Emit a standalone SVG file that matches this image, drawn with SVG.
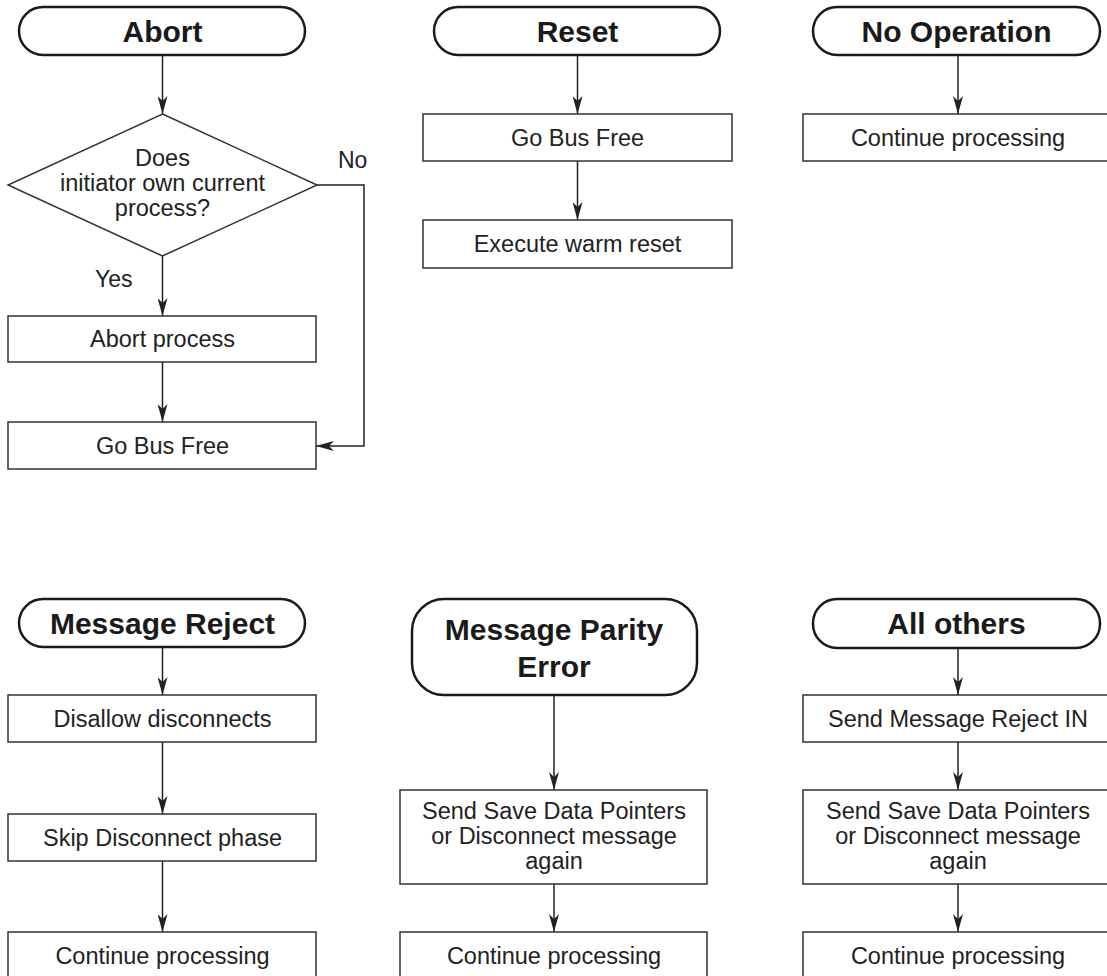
<svg xmlns="http://www.w3.org/2000/svg" width="1107" height="976" viewBox="0 0 1107 976">
<style>
  .term { fill: #fff; stroke: #1a1a1a; stroke-width: 2.5; }
  .box { fill: #fff; stroke: #333; stroke-width: 1.5; }
  .ttl { font-family: "Liberation Sans", Arial, sans-serif; font-weight: bold; font-size: 30px; fill: #1a1a1a; text-anchor: middle; }
  .txt { font-family: "Liberation Sans", Arial, sans-serif; font-size: 23.5px; fill: #222; text-anchor: middle; }
  .lbl { font-family: "Liberation Sans", Arial, sans-serif; font-size: 23px; fill: #222; }
  .con { fill: none; stroke: #222; stroke-width: 1.5; marker-end: url(#arr); }
</style>
<defs>
  <marker id="arr" viewBox="0 0 18 10" refX="18" refY="5" markerWidth="18" markerHeight="10" markerUnits="userSpaceOnUse" orient="auto">
    <path d="M0,0 L18,5 L0,10 L5,5 z" fill="#222"/>
  </marker>
</defs>
<rect width="1107" height="976" fill="#fff"/>

<g id="connectors">
  <line class="con" x1="162.5" y1="55" x2="162.5" y2="114"/>
  <line class="con" x1="162.5" y1="256" x2="162.5" y2="316"/>
  <line class="con" x1="162.5" y1="362" x2="162.5" y2="422"/>
  <polyline class="con" points="317,185 364,185 364,446 316,446"/>
  <line class="con" x1="577.5" y1="55" x2="577.5" y2="114"/>
  <line class="con" x1="577.5" y1="161" x2="577.5" y2="220"/>
  <line class="con" x1="958" y1="55" x2="958" y2="114"/>
  <line class="con" x1="162.5" y1="647" x2="162.5" y2="695"/>
  <line class="con" x1="162.5" y1="742" x2="162.5" y2="814"/>
  <line class="con" x1="162.5" y1="861" x2="162.5" y2="932"/>
  <line class="con" x1="554" y1="695" x2="554" y2="790"/>
  <line class="con" x1="554" y1="884" x2="554" y2="932"/>
  <line class="con" x1="958" y1="648" x2="958" y2="695"/>
  <line class="con" x1="958" y1="742" x2="958" y2="790"/>
  <line class="con" x1="958" y1="884" x2="958" y2="932"/>
</g>

<g id="labels">
  <text class="lbl" x="338" y="168">No</text>
  <text class="lbl" x="95" y="287">Yes</text>
</g>

<g id="abort">
  <rect class="term" x="19" y="7" width="286" height="48" rx="24" ry="24"/>
  <text class="ttl" x="162.5" y="41.5">Abort</text>
</g>
<g id="decision">
  <polygon class="box" points="162.5,114 317,185 162.5,256 8,185"/>
  <text class="txt" x="162.5" y="166">Does</text>
  <text class="txt" x="162.5" y="191">initiator own current</text>
  <text class="txt" x="162.5" y="216">process?</text>
</g>
<g id="abort-process">
  <rect class="box" x="8" y="316" width="308" height="46"/>
  <text class="txt" x="162.5" y="347">Abort process</text>
</g>
<g id="abort-gobusfree">
  <rect class="box" x="8" y="422" width="308" height="47"/>
  <text class="txt" x="162.5" y="454">Go Bus Free</text>
</g>

<g id="reset">
  <rect class="term" x="434" y="7" width="286" height="48" rx="24" ry="24"/>
  <text class="ttl" x="577.5" y="41.5">Reset</text>
</g>
<g id="reset-gobusfree">
  <rect class="box" x="423" y="114" width="309" height="47"/>
  <text class="txt" x="577.5" y="146">Go Bus Free</text>
</g>
<g id="warm-reset">
  <rect class="box" x="423" y="220" width="309" height="48"/>
  <text class="txt" x="577.5" y="252">Execute warm reset</text>
</g>

<g id="noop">
  <rect class="term" x="813" y="7" width="287" height="48" rx="24" ry="24"/>
  <text class="ttl" x="956.5" y="41.5">No Operation</text>
</g>
<g id="noop-continue">
  <rect class="box" x="803" y="114" width="310" height="47"/>
  <text class="txt" x="958" y="146">Continue processing</text>
</g>

<g id="msg-reject">
  <rect class="term" x="19" y="599" width="286" height="48" rx="24" ry="24"/>
  <text class="ttl" x="162.5" y="633.5">Message Reject</text>
</g>
<g id="disallow">
  <rect class="box" x="8" y="695" width="308" height="47"/>
  <text class="txt" x="162.5" y="727">Disallow disconnects</text>
</g>
<g id="skip">
  <rect class="box" x="8" y="814" width="308" height="47"/>
  <text class="txt" x="162.5" y="846">Skip Disconnect phase</text>
</g>
<g id="reject-continue">
  <rect class="box" x="8" y="932" width="308" height="47"/>
  <text class="txt" x="162.5" y="964">Continue processing</text>
</g>

<g id="parity">
  <rect class="term" x="412" y="599" width="285" height="96" rx="32" ry="32"/>
  <text class="ttl" x="554" y="640">Message Parity</text>
  <text class="ttl" x="554" y="677">Error</text>
</g>
<g id="parity-send">
  <rect class="box" x="400" y="790" width="307" height="94"/>
  <text class="txt" x="554" y="819">Send Save Data Pointers</text>
  <text class="txt" x="554" y="844">or Disconnect message</text>
  <text class="txt" x="554" y="869">again</text>
</g>
<g id="parity-continue">
  <rect class="box" x="400" y="932" width="307" height="47"/>
  <text class="txt" x="554" y="964">Continue processing</text>
</g>

<g id="others">
  <rect class="term" x="813" y="599" width="287" height="49" rx="24" ry="24"/>
  <text class="ttl" x="956.5" y="633.5">All others</text>
</g>
<g id="others-reject-in">
  <rect class="box" x="803" y="695" width="310" height="47"/>
  <text class="txt" x="958" y="727">Send Message Reject IN</text>
</g>
<g id="others-send">
  <rect class="box" x="803" y="790" width="310" height="94"/>
  <text class="txt" x="958" y="819">Send Save Data Pointers</text>
  <text class="txt" x="958" y="844">or Disconnect message</text>
  <text class="txt" x="958" y="869">again</text>
</g>
<g id="others-continue">
  <rect class="box" x="803" y="932" width="310" height="47"/>
  <text class="txt" x="958" y="964">Continue processing</text>
</g>
</svg>
